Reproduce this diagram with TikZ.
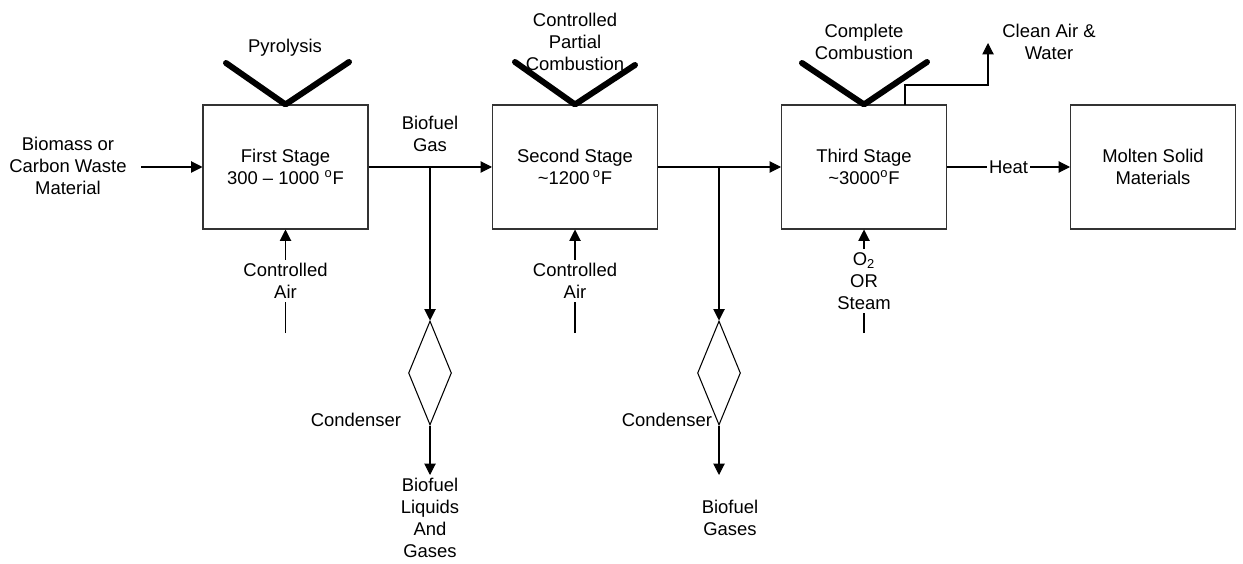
\documentclass[tikz,border=0pt]{standalone}
\usepackage{fontspec}
\setmainfont{Liberation Sans}
\usetikzlibrary{arrows.meta,shapes.geometric}

\begin{document}
\begin{tikzpicture}[x=0.02cm, y=-0.02cm, line width=0.6pt,
    font=\fontsize{10.5}{12.5}\selectfont,
    stage/.style={draw=black!80, minimum width=3.3cm, minimum height=2.48cm, align=center, inner sep=0pt},
    cond/.style={draw, diamond, minimum width=0.86cm, minimum height=2.08cm, inner sep=0pt},
    flow/.style={-{Triangle[length=6.5pt,width=6.5pt]}},
    vee/.style={line width=3.4pt, line cap=round, line join=round},
    gap/.style={fill=white, align=center, inner sep=2pt}]

    \useasboundingbox (0,0) rectangle (1243,564);

    % coordinates to be reused
    \coordinate (src) at (141,167);
    \coordinate (split1) at (430,167);
    \coordinate (split2) at (719,167);
    \coordinate (air1) at (285.5,333);
    \coordinate (air2) at (575,333);
    \coordinate (oxy) at (864,333);
    \coordinate (vent) at (905,105);
    \coordinate (ventup) at (905,85);
    \coordinate (clean) at (988,43);
    \coordinate (out1) at (430,475);
    \coordinate (out2) at (719,475);

    % draw figure
    \node[stage] (stage1) at (285.5,167) {First Stage\\300 -- 1000 \textsuperscript{o}F};
    \node[stage] (stage2) at (575,167) {Second Stage\\\textasciitilde1200\,\textsuperscript{o}F};
    \node[stage] (stage3) at (864,167) {Third Stage\\\textasciitilde3000\textsuperscript{o}F};
    \node[stage] (stage4) at (1153,167) {Molten Solid\\Materials};
    \node[cond] (cond1) at (430,373) {};
    \node[cond] (cond2) at (719,373) {};

    \draw[vee] (226,63) -- (stage1.north) -- (349,62);
    \draw[vee] (515,62) -- (stage2.north) -- (635,65);
    \draw[vee] (802,63) -- (stage3.north) -- (927,62);

    \draw[flow] (src) -- (stage1.west);
    \draw[flow] (stage1.east) -- (stage2.west);
    \draw[flow] (stage2.east) -- (stage3.west);
    \draw[flow] (stage3.east) -- node[gap, inner sep=1pt] (heat) {Heat} (stage4.west);
    \draw[flow] (split1) -- (cond1.north);
    \draw[flow] (split2) -- (cond2.north);
    \draw[flow] (cond1.south) -- (out1);
    \draw[flow] (cond2.south) -- (out2);
    \draw[flow] (air1) -- node[gap] (airtxt1) {Controlled\\Air} (stage1.south);
    \draw[flow] (air2) -- node[gap] (airtxt2) {Controlled\\Air} (stage2.south);
    \draw[flow] (oxy) -- node[gap] (oxytxt) {O\textsubscript{2}\\OR\\Steam} (stage3.south);
    \draw[flow] (vent) -- (ventup) -| (clean);

    % add labels
    \node[align=center] (feed) at (68,166) {Biomass or\\Carbon Waste\\Material};
    \node[align=center] (gas) at (430,134) {Biofuel\\Gas};
    \node (pyro) at (285,48) {Pyrolysis};
    \node[align=center] (partial) at (575,42) {Controlled\\Partial\\Combustion};
    \node[align=center] (complete) at (864,42) {Complete\\Combustion};
    \node[align=center] (cleantxt) at (1049,42) {Clean Air \&\\Water};
    \node (condtxt1) at (356,420) {Condenser};
    \node (condtxt2) at (667,420) {Condenser};
    \node[align=center] (liquids) at (430,518) {Biofuel\\Liquids\\And\\Gases};
    \node[align=center] (gases) at (730,518) {Biofuel\\Gases};
\end{tikzpicture}
\end{document}
